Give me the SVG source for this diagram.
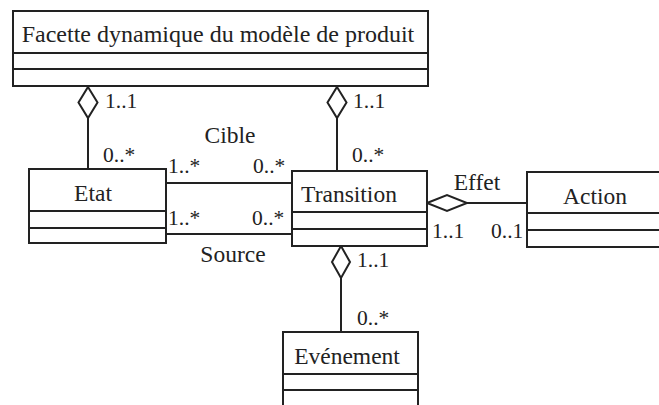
<svg xmlns="http://www.w3.org/2000/svg" width="659" height="405" viewBox="0 0 659 405">
<style>
.box{fill:#fff;stroke:#222;stroke-width:2}
.ln{fill:none;stroke:#222;stroke-width:2}
.dm{fill:#fff;stroke:#222;stroke-width:2;stroke-linejoin:miter}
text{font-family:"Liberation Serif","Times New Roman",serif;font-size:23.5px;fill:#222}
.c{text-anchor:middle}
.m{font-size:21.5px}
.t{font-size:24px}
</style>
<rect width="659" height="405" fill="#fff"/>
<g id="connectors">
<line class="ln" x1="88" y1="118" x2="88" y2="169"/>
<polygon class="dm" points="88,87 97.5,102.5 88,118 78.5,102.5"/>
<line class="ln" x1="337" y1="118" x2="337" y2="171"/>
<polygon class="dm" points="337,87 346.5,102.5 337,118 327.5,102.5"/>
<line class="ln" x1="166" y1="183" x2="292" y2="183"/>
<line class="ln" x1="166" y1="234" x2="292" y2="234"/>
<line class="ln" x1="467" y1="203" x2="527" y2="203"/>
<polygon class="dm" points="427,203 447,195 467,203 447,211"/>
<line class="ln" x1="341" y1="278" x2="341" y2="332"/>
<polygon class="dm" points="341,246 350,262 341,278 332,262"/>
<text class="m" x="105" y="108">1..1</text>
<text class="m" x="103" y="162">0..*</text>
<text class="m" x="353" y="108">1..1</text>
<text class="m" x="352" y="162">0..*</text>
<text class="c" x="230" y="143">Cible</text>
<text class="m" x="168" y="173">1..*</text>
<text class="m" x="253" y="173">0..*</text>
<text class="m" x="168" y="225">1..*</text>
<text class="m" x="252" y="225">0..*</text>
<text class="c" x="233" y="262">Source</text>
<text class="c" x="477" y="190">Effet</text>
<text class="m" x="432" y="238">1..1</text>
<text class="m" x="491" y="238">0..1</text>
<text class="m" x="357" y="267">1..1</text>
<text class="m" x="357" y="325">0..*</text>
</g>
<g id="facette">
<rect class="box" x="13" y="11" width="415" height="75"/>
<line class="ln" x1="13" y1="53" x2="428" y2="53"/>
<line class="ln" x1="13" y1="69" x2="428" y2="69"/>
<text class="c t" x="218" y="42">Facette dynamique du modèle de produit</text>
</g>
<g id="etat">
<rect class="box" x="29" y="169" width="137" height="74"/>
<line class="ln" x1="29" y1="211" x2="166" y2="211"/>
<line class="ln" x1="29" y1="228" x2="166" y2="228"/>
<text class="c" x="93" y="201">Etat</text>
</g>
<g id="transition">
<rect class="box" x="292" y="171" width="135" height="75"/>
<line class="ln" x1="292" y1="212" x2="427" y2="212"/>
<line class="ln" x1="292" y1="229" x2="427" y2="229"/>
<text class="c" x="349" y="202">Transition</text>
</g>
<g id="action">
<rect class="box" x="527" y="172" width="145" height="75"/>
<line class="ln" x1="527" y1="213" x2="672" y2="213"/>
<line class="ln" x1="527" y1="230" x2="672" y2="230"/>
<text class="c" x="595" y="204">Action</text>
</g>
<g id="evenement">
<rect class="box" x="283" y="332" width="135" height="80"/>
<line class="ln" x1="283" y1="374" x2="418" y2="374"/>
<line class="ln" x1="283" y1="390" x2="418" y2="390"/>
<text class="c" x="347" y="364">Evénement</text>
</g>
</svg>
